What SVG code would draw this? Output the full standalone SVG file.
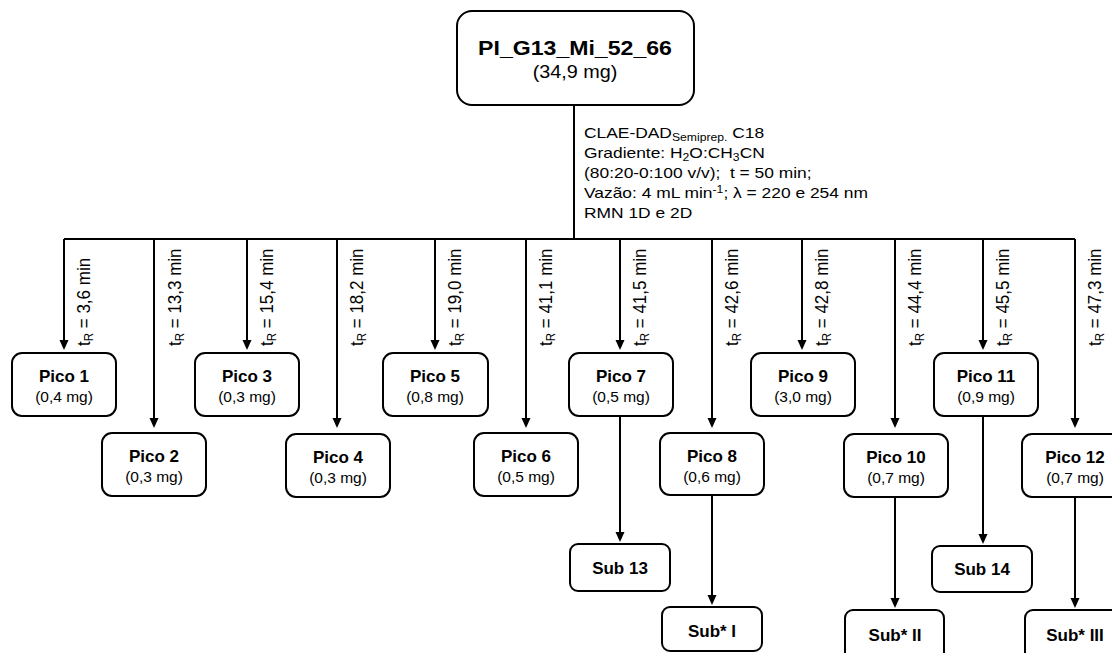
<svg xmlns="http://www.w3.org/2000/svg" width="1112" height="653" viewBox="0 0 1112 653">
<style>
  .box{fill:#fff;stroke:#000;stroke-width:2}
  .ln{fill:none;stroke:#000;stroke-width:2}
  .t{font-family:"Liberation Sans",Arial,sans-serif;fill:#000}
  .b{font-weight:bold;font-size:17px}
  .m{font-size:15.5px}
  .lab{font-size:17px}
  .c{text-anchor:middle}
</style>
<defs>
  <marker id="ah" markerUnits="userSpaceOnUse" markerWidth="11" markerHeight="11" refX="5" refY="5.5" orient="auto">
    <path d="M0,1 L10,5.5 L0,10 z" fill="#000"/>
  </marker>
</defs>
<rect width="1112" height="653" fill="#fff"/>

<g id="connectors">
  <path class="ln" d="M574,105 V239"/>
  <path class="ln" d="M64,239 H1075"/>
  <path class="ln" marker-end="url(#ah)" d="M64,239 V345"/>
  <path class="ln" marker-end="url(#ah)" d="M247,239 V345"/>
  <path class="ln" marker-end="url(#ah)" d="M435,239 V345"/>
  <path class="ln" marker-end="url(#ah)" d="M620,239 V345"/>
  <path class="ln" marker-end="url(#ah)" d="M802,239 V345"/>
  <path class="ln" marker-end="url(#ah)" d="M983,239 V345"/>
  <path class="ln" marker-end="url(#ah)" d="M154,239 V423"/>
  <path class="ln" marker-end="url(#ah)" d="M337,239 V423"/>
  <path class="ln" marker-end="url(#ah)" d="M526,239 V423"/>
  <path class="ln" marker-end="url(#ah)" d="M712,239 V423"/>
  <path class="ln" marker-end="url(#ah)" d="M895,239 V423"/>
  <path class="ln" marker-end="url(#ah)" d="M1075,239 V423"/>
  <path class="ln" marker-end="url(#ah)" d="M620,416 V537"/>
  <path class="ln" marker-end="url(#ah)" d="M712,495 V600"/>
  <path class="ln" marker-end="url(#ah)" d="M895,497 V603"/>
  <path class="ln" marker-end="url(#ah)" d="M983,416 V539"/>
  <path class="ln" marker-end="url(#ah)" d="M1075,497 V603"/>
  <g class="t lab">
    <text transform="translate(90 346) scale(1.1 1) rotate(-90)">t<tspan font-size="11.5" dy="3">R</tspan><tspan dy="-3"> = 3,6 min</tspan></text>
    <text transform="translate(181 346) scale(1.1 1) rotate(-90)">t<tspan font-size="11.5" dy="3">R</tspan><tspan dy="-3"> = 13,3 min</tspan></text>
    <text transform="translate(273 346) scale(1.1 1) rotate(-90)">t<tspan font-size="11.5" dy="3">R</tspan><tspan dy="-3"> = 15,4 min</tspan></text>
    <text transform="translate(363 346) scale(1.1 1) rotate(-90)">t<tspan font-size="11.5" dy="3">R</tspan><tspan dy="-3"> = 18,2 min</tspan></text>
    <text transform="translate(461 346) scale(1.1 1) rotate(-90)">t<tspan font-size="11.5" dy="3">R</tspan><tspan dy="-3"> = 19,0 min</tspan></text>
    <text transform="translate(552 346) scale(1.1 1) rotate(-90)">t<tspan font-size="11.5" dy="3">R</tspan><tspan dy="-3"> = 41,1 min</tspan></text>
    <text transform="translate(646 346) scale(1.1 1) rotate(-90)">t<tspan font-size="11.5" dy="3">R</tspan><tspan dy="-3"> = 41,5 min</tspan></text>
    <text transform="translate(738 346) scale(1.1 1) rotate(-90)">t<tspan font-size="11.5" dy="3">R</tspan><tspan dy="-3"> = 42,6 min</tspan></text>
    <text transform="translate(828 346) scale(1.1 1) rotate(-90)">t<tspan font-size="11.5" dy="3">R</tspan><tspan dy="-3"> = 42,8 min</tspan></text>
    <text transform="translate(921 346) scale(1.1 1) rotate(-90)">t<tspan font-size="11.5" dy="3">R</tspan><tspan dy="-3"> = 44,4 min</tspan></text>
    <text transform="translate(1009 346) scale(1.1 1) rotate(-90)">t<tspan font-size="11.5" dy="3">R</tspan><tspan dy="-3"> = 45,5 min</tspan></text>
    <text transform="translate(1101 346) scale(1.1 1) rotate(-90)">t<tspan font-size="11.5" dy="3">R</tspan><tspan dy="-3"> = 47,3 min</tspan></text>
  </g>
  <g transform="translate(584 0) scale(1.16 1)" class="t" font-size="15">
    <text x="0" y="138">CLAE-DAD<tspan font-size="10.5" dy="3">Semiprep.</tspan><tspan dy="-3"> C18</tspan></text>
    <text x="0" y="158">Gradiente: H<tspan font-size="10.5" dy="3">2</tspan><tspan dy="-3">O:CH</tspan><tspan font-size="10.5" dy="3">3</tspan><tspan dy="-3">CN</tspan></text>
    <text x="0" y="178">(80:20-0:100 v/v);&#160; t = 50 min;</text>
    <text x="0" y="198">Vazão: 4 mL min<tspan font-size="10.5" dy="-5">-1</tspan><tspan dy="5">; λ = 220 e 254 nm</tspan></text>
    <text x="0" y="218">RMN 1D e 2D</text>
  </g>
</g>

<g id="root">
  <rect class="box" x="457" y="11" width="237" height="94" rx="15"/>
  <g transform="translate(575 0) scale(1.1 1)" class="t c">
    <text x="0" y="55" font-size="21" font-weight="bold">PI_G13_Mi_52_66</text>
    <text x="0" y="78" font-size="18">(34,9 mg)</text>
  </g>
</g>

<g id="pico1"><rect class="box" x="12" y="353" width="104" height="63" rx="10"/><text class="t b c" x="64" y="382">Pico 1</text><text class="t m c" x="64" y="402">(0,4 mg)</text></g>
<g id="pico3"><rect class="box" x="195" y="353" width="104" height="63" rx="10"/><text class="t b c" x="247" y="382">Pico 3</text><text class="t m c" x="247" y="402">(0,3 mg)</text></g>
<g id="pico5"><rect class="box" x="383" y="353" width="105" height="63" rx="10"/><text class="t b c" x="435" y="382">Pico 5</text><text class="t m c" x="435" y="402">(0,8 mg)</text></g>
<g id="pico7"><rect class="box" x="569" y="353" width="104" height="63" rx="10"/><text class="t b c" x="621" y="382">Pico 7</text><text class="t m c" x="621" y="402">(0,5 mg)</text></g>
<g id="pico9"><rect class="box" x="751" y="353" width="104" height="63" rx="10"/><text class="t b c" x="803" y="382">Pico 9</text><text class="t m c" x="803" y="402">(3,0 mg)</text></g>
<g id="pico11"><rect class="box" x="934" y="353" width="104" height="63" rx="10"/><text class="t b c" x="986" y="382">Pico 11</text><text class="t m c" x="986" y="402">(0,9 mg)</text></g>

<g id="pico2"><rect class="box" x="102" y="433" width="104" height="63" rx="10"/><text class="t b c" x="154" y="462">Pico 2</text><text class="t m c" x="154" y="482">(0,3 mg)</text></g>
<g id="pico4"><rect class="box" x="286" y="434" width="104" height="63" rx="10"/><text class="t b c" x="338" y="463">Pico 4</text><text class="t m c" x="338" y="483">(0,3 mg)</text></g>
<g id="pico6"><rect class="box" x="474" y="433" width="104" height="63" rx="10"/><text class="t b c" x="526" y="462">Pico 6</text><text class="t m c" x="526" y="482">(0,5 mg)</text></g>
<g id="pico8"><rect class="box" x="660" y="433" width="104" height="62" rx="10"/><text class="t b c" x="712" y="462">Pico 8</text><text class="t m c" x="712" y="482">(0,6 mg)</text></g>
<g id="pico10"><rect class="box" x="844" y="434" width="104" height="63" rx="10"/><text class="t b c" x="896" y="463">Pico 10</text><text class="t m c" x="896" y="483">(0,7 mg)</text></g>
<g id="pico12"><rect class="box" x="1022" y="434" width="105" height="63" rx="10"/><text class="t b c" x="1075" y="463">Pico 12</text><text class="t m c" x="1075" y="483">(0,7 mg)</text></g>

<g id="sub13"><rect class="box" x="570" y="544" width="100" height="47" rx="8"/><text class="t b c" x="620" y="574">Sub 13</text></g>
<g id="sub14"><rect class="box" x="932" y="546" width="100" height="46" rx="8"/><text class="t b c" x="982" y="575">Sub 14</text></g>
<g id="subI"><rect class="box" x="662" y="607" width="100" height="44" rx="8"/><text class="t b c" x="712" y="637">Sub* I</text></g>
<g id="subII"><rect class="box" x="845" y="610" width="99" height="55" rx="8"/><text class="t b c" x="895" y="641">Sub* II</text></g>
<g id="subIII"><rect class="box" x="1025" y="610" width="100" height="55" rx="8"/><text class="t b c" x="1075" y="641">Sub* III</text></g>
</svg>
